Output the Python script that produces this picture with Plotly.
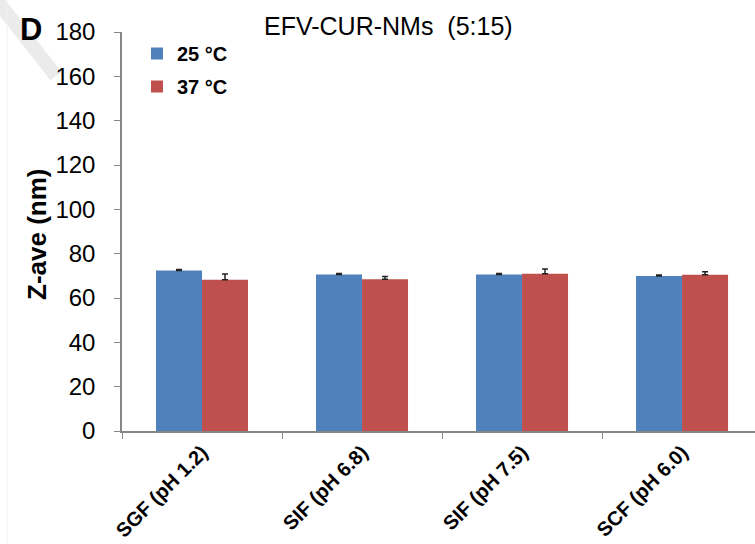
import plotly.graph_objects as go

# Z-average size of EFV-CUR-NMs (5:15) in simulated GI fluids
media = ["SGF (pH 1.2)", "SIF (pH 6.8)", "SIF (pH 7.5)", "SCF (pH 6.0)"]
z_25 = [72.4, 70.6, 70.6, 69.9]
z_25_err = [0.5, 0.5, 0.5, 0.5]
z_37 = [68.2, 68.5, 70.9, 70.5]
z_37_err = [2.6, 1.2, 2.2, 1.3]

W, H = 755, 544
ML, MR, MT, MB = 122, 0, 32, 113
PW, PH = W - ML - MR, H - MT - MB

BLUE = "#4F81BD"
RED = "#C0504D"
AXIS = "#868686"
FONT = "Liberation Sans, Arial, sans-serif"


def px_x(x):
    return (x - ML) / PW


def px_y(y):
    return (H - MB - y) / PH


err_style = dict(type="data", color="#222222", thickness=1.5, width=3, symmetric=False)

fig = go.Figure()
fig.add_trace(go.Bar(
    x=media, y=z_25, name="25 °C", marker=dict(color=BLUE, line=dict(width=0)),
    error_y=dict(array=z_25_err, arrayminus=[0] * len(z_25_err), **err_style),
    legendgroup="a",
))
fig.add_trace(go.Bar(
    x=media, y=z_37, name="37 °C", marker=dict(color=RED, line=dict(width=0)),
    error_y=dict(array=z_37_err, arrayminus=[0] * len(z_37_err), **err_style),
    legendgroup="b",
))

fig.update_layout(
    width=W, height=H,
    margin=dict(l=ML, r=MR, t=MT, b=MB),
    paper_bgcolor="white", plot_bgcolor="white",
    barmode="group", bargap=0.425, bargroupgap=0,
    font=dict(family=FONT, color="black"),
    showlegend=True,
    legend=dict(
        x=px_x(137), y=px_y(34), xanchor="left", yanchor="top",
        bgcolor="rgba(0,0,0,0)", font=dict(size=20, family=FONT, weight="bold"),
        traceorder="grouped", tracegroupgap=4, itemwidth=30,
    ),
    xaxis=dict(
        range=[-0.5, 3.456], showline=True, linecolor=AXIS, linewidth=1.5,
        ticks="outside", tickson="boundaries", ticklen=6, tickcolor=AXIS,
        tickangle=-45, tickfont=dict(size=20, family=FONT, weight="bold"),
        showgrid=False, zeroline=False,
    ),
    yaxis=dict(
        range=[0, 180], tickvals=list(range(0, 181, 20)), showline=True,
        linecolor=AXIS, linewidth=1.5, ticks="outside", ticklen=6, tickcolor=AXIS,
        tickfont=dict(size=24, family=FONT), ticklabelstandoff=14,
        showgrid=False, zeroline=False,
    ),
    shapes=[
        dict(type="line", xref="paper", yref="paper",
             x0=px_x(-2), y0=px_y(2), x1=px_x(56), y1=px_y(76),
             line=dict(color="#ebebeb", width=14), layer="below"),
        dict(type="line", xref="paper", yref="paper",
             x0=px_x(7), y0=px_y(0), x1=px_x(7), y1=px_y(544),
             line=dict(color="#f2f2f2", width=1), layer="below"),
    ],
    annotations=[
        dict(text="EFV-CUR-NMs  (5:15)", xref="paper", yref="paper",
             x=px_x(388), y=px_y(26), xanchor="center", yanchor="middle",
             showarrow=False, font=dict(size=25, family=FONT)),
        dict(text="<b>D</b>", xref="paper", yref="paper",
             x=px_x(31), y=px_y(30), xanchor="center", yanchor="middle",
             showarrow=False, font=dict(size=31, family=FONT)),
        dict(text="<b>Z-ave (nm)</b>", xref="paper", yref="paper",
             x=px_x(37), y=px_y(235), xanchor="center", yanchor="middle",
             showarrow=False, textangle=-90, font=dict(size=26, family=FONT)),
    ],
)

fig.write_html("out.html")
